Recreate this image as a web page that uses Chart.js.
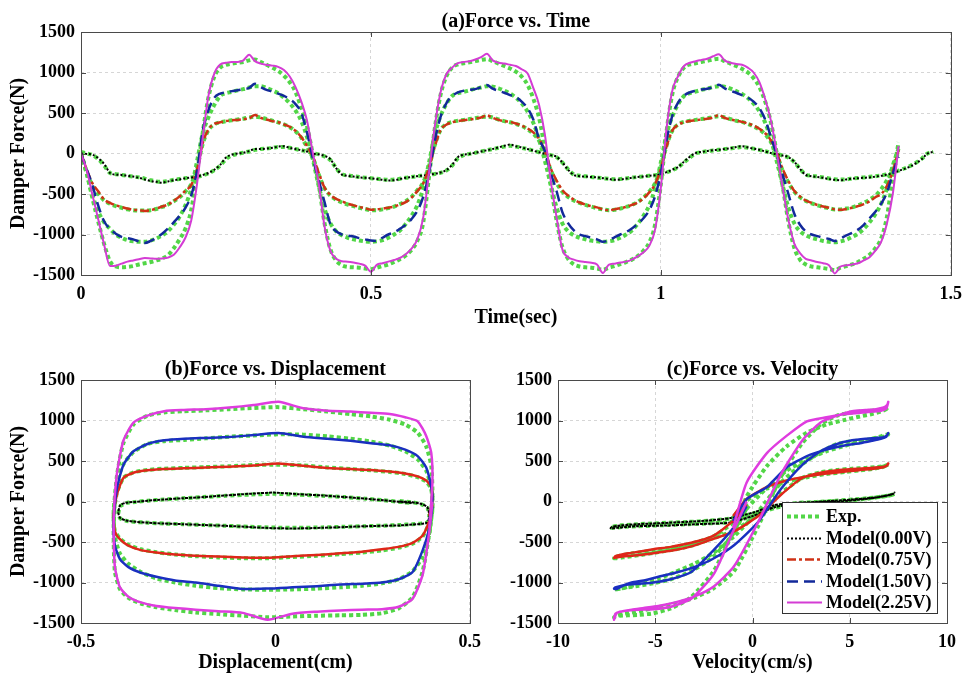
<!DOCTYPE html>
<html>
<head>
<meta charset="utf-8">
<title>MR damper: force vs time, displacement, velocity</title>
<script src="https://cdn.jsdelivr.net/npm/chart.js@4.4.1/dist/chart.umd.min.js"></script>
<style>
  body { margin: 0; background: #fff; }
  #wrap { position: relative; width: 971px; height: 675px; }
  .panel { position: absolute; }
</style>
</head>
<body>
<div id="wrap">
  <div class="panel" style="left:0;top:0"><canvas id="chartA" width="971" height="330"></canvas></div>
  <div class="panel" style="left:0;top:330px"><canvas id="chartB" width="490" height="345"></canvas></div>
  <div class="panel" style="left:490px;top:330px"><canvas id="chartC" width="481" height="345"></canvas></div>
</div>
<script>
const FONT = "'Liberation Serif', 'Times New Roman', serif";

// sample times (sec)
const timeSec = [
  0.00, 0.01, 0.02, 0.03, 0.04, 0.05, 0.06, 0.07, 0.08, 0.09,
  0.10, 0.11, 0.12, 0.13, 0.14, 0.15, 0.16, 0.17, 0.18, 0.19,
  0.20, 0.21, 0.22, 0.23, 0.24, 0.25, 0.26, 0.27, 0.28, 0.29,
  0.30, 0.31, 0.32, 0.33, 0.34, 0.35, 0.36, 0.37, 0.38, 0.39,
  0.40, 0.41, 0.42, 0.43, 0.44, 0.45, 0.46, 0.47, 0.48, 0.49,
  0.50, 0.51, 0.52, 0.53, 0.54, 0.55, 0.56, 0.57, 0.58, 0.59,
  0.60, 0.61, 0.62, 0.63, 0.64, 0.65, 0.66, 0.67, 0.68, 0.69,
  0.70, 0.71, 0.72, 0.73, 0.74, 0.75, 0.76, 0.77, 0.78, 0.79,
  0.80, 0.81, 0.82, 0.83, 0.84, 0.85, 0.86, 0.87, 0.88, 0.89,
  0.90, 0.91, 0.92, 0.93, 0.94, 0.95, 0.96, 0.97, 0.98, 0.99,
  1.00, 1.01, 1.02, 1.03, 1.04, 1.05, 1.06, 1.07, 1.08, 1.09,
  1.10, 1.11, 1.12, 1.13, 1.14, 1.15, 1.16, 1.17, 1.18, 1.19,
  1.20, 1.21, 1.22, 1.23, 1.24, 1.25, 1.26, 1.27, 1.28, 1.29,
  1.30, 1.31, 1.32, 1.33, 1.34, 1.35, 1.36, 1.37, 1.38, 1.39,
  1.40, 1.41, 1.42, 1.43, 1.44, 1.45, 1.46, 1.47
];

// damper force (N), 0.00 V
const expForce000 = [
  20, 0, -20, -70, -150, -240, -255, -265, -275, -285,
  -295, -310, -330, -345, -350, -340, -325, -315, -305, -295,
  -285, -270, -245, -205, -150, -70, -25, -5, 10, 25,
  45, 55, 60, 70, 80, 80, 70, 55, 40, 25,
  5, -10, -35, -80, -180, -255, -270, -280, -290, -298,
  -305, -312, -320, -325, -322, -312, -300, -290, -280, -272,
  -262, -252, -238, -210, -150, -60, -20, -5, 10, 25,
  40, 55, 70, 85, 95, 85, 70, 55, 35, 15,
  -5, -20, -45, -110, -195, -260, -275, -282, -290, -298,
  -305, -312, -318, -315, -308, -298, -290, -283, -275, -268,
  -258, -235, -205, -170, -110, -50, 0, 15, 28, 38,
  45, 55, 62, 72, 80, 72, 60, 45, 28, 8,
  -8, -25, -50, -105, -190, -260, -275, -285, -295, -308,
  -318, -322, -318, -310, -302, -295, -288, -280, -270, -258,
  -240, -212, -185, -155, -115, -65, 0, 20
];
const modelForce000 = [
  0, -5, -15, -60, -130, -240, -260, -265, -275, -285,
  -300, -320, -340, -350, -360, -345, -330, -320, -305, -295,
  -285, -265, -240, -200, -140, -50, -15, 0, 10, 30,
  55, 55, 60, 70, 85, 90, 70, 55, 40, 25,
  0, -10, -30, -70, -180, -260, -275, -285, -295, -300,
  -305, -315, -325, -332, -330, -315, -300, -290, -280, -272,
  -262, -250, -235, -205, -140, -45, -15, -5, 10, 25,
  40, 55, 75, 95, 110, 90, 75, 55, 35, 15,
  -5, -20, -40, -110, -200, -265, -280, -285, -290, -295,
  -305, -315, -325, -320, -310, -300, -290, -285, -275, -268,
  -255, -230, -200, -165, -100, -40, 5, 20, 30, 40,
  45, 55, 65, 80, 90, 75, 60, 45, 25, 5,
  -10, -25, -45, -100, -190, -265, -280, -290, -300, -315,
  -325, -330, -320, -310, -305, -300, -295, -285, -275, -260,
  -245, -215, -190, -160, -120, -70, 0, 20
];

// damper force (N), 0.75 V
const expForce075 = [
  0, -230, -400, -500, -580, -620, -650, -670, -690, -700,
  -705, -705, -700, -685, -660, -630, -590, -540, -470, -380,
  -180, 120, 290, 360, 385, 400, 410, 420, 430, 445,
  455, 445, 425, 405, 385, 360, 325, 275, 195, 80,
  -60, -260, -430, -520, -570, -605, -630, -650, -670, -685,
  -700, -700, -690, -675, -655, -625, -590, -535, -455, -360,
  -160, 100, 290, 360, 390, 405, 415, 425, 435, 450,
  455, 445, 420, 400, 385, 365, 340, 300, 245, 160,
  10, -200, -360, -470, -535, -580, -610, -635, -655, -675,
  -690, -700, -695, -680, -660, -635, -600, -545, -470, -370,
  -170, 100, 285, 360, 390, 405, 415, 425, 435, 450,
  460, 445, 425, 405, 390, 365, 335, 295, 235, 140,
  -10, -210, -360, -470, -540, -585, -615, -640, -660, -675,
  -690, -690, -680, -665, -640, -610, -570, -520, -440, -330,
  -170, 30
];
const modelForce075 = [
  0, -200, -370, -470, -570, -610, -640, -660, -680, -695,
  -700, -710, -700, -680, -655, -630, -585, -530, -460, -390,
  -200, 130, 300, 365, 385, 400, 410, 415, 425, 435,
  475, 440, 420, 400, 385, 360, 330, 280, 200, 90,
  -40, -240, -420, -510, -560, -590, -620, -640, -660, -675,
  -695, -690, -680, -670, -655, -630, -600, -545, -465, -370,
  -180, 80, 290, 355, 385, 400, 410, 420, 430, 445,
  470, 440, 415, 400, 390, 370, 345, 310, 260, 180,
  30, -180, -330, -450, -520, -570, -605, -630, -650, -665,
  -690, -700, -690, -675, -660, -635, -605, -555, -480, -380,
  -190, 90, 285, 355, 385, 400, 410, 420, 430, 445,
  475, 440, 420, 405, 390, 370, 345, 305, 250, 160,
  10, -190, -340, -460, -530, -580, -610, -635, -655, -670,
  -690, -695, -685, -670, -650, -625, -590, -540, -500, -400,
  -220, 40
];

// damper force (N), 1.50 V
const expForce150 = [
  0, -250, -520, -720, -850, -930, -1000, -1040, -1070, -1085,
  -1090, -1090, -1075, -1050, -1010, -960, -880, -780, -640, -440,
  -100, 250, 450, 600, 710, 745, 760, 780, 795, 815,
  830, 830, 810, 780, 745, 690, 620, 530, 400, 200,
  -80, -400, -680, -860, -960, -1010, -1040, -1060, -1075, -1085,
  -1090, -1085, -1070, -1040, -1000, -950, -870, -770, -640, -430,
  -120, 230, 460, 610, 710, 745, 760, 780, 800, 815,
  830, 825, 805, 775, 740, 690, 620, 520, 380, 170,
  -90, -380, -660, -860, -960, -1010, -1040, -1060, -1075, -1085,
  -1090, -1085, -1070, -1040, -1000, -950, -870, -770, -640, -430,
  -110, 240, 460, 610, 710, 745, 765, 785, 800, 820,
  830, 825, 800, 770, 735, 685, 615, 520, 380, 170,
  -100, -390, -670, -860, -960, -1010, -1040, -1060, -1080, -1090,
  -1095, -1085, -1065, -1030, -990, -930, -850, -750, -620, -430,
  -150, 60
];
const modelForce150 = [
  0, -200, -400, -650, -840, -930, -990, -1030, -1045, -1060,
  -1085, -1105, -1080, -1040, -990, -925, -850, -770, -670, -520,
  -220, 280, 540, 690, 740, 755, 770, 780, 795, 810,
  860, 820, 785, 765, 740, 710, 670, 610, 500, 250,
  -60, -330, -600, -870, -960, -1000, -1015, -1025, -1045, -1060,
  -1075, -1080, -1040, -1000, -975, -930, -880, -810, -710, -540,
  -250, 150, 450, 620, 710, 755, 775, 785, 795, 820,
  845, 800, 775, 750, 720, 695, 640, 560, 420, 180,
  30, -240, -460, -720, -860, -950, -1000, -1020, -1040, -1060,
  -1090, -1070, -1035, -1000, -970, -925, -870, -800, -700, -530,
  -240, 170, 470, 630, 715, 755, 775, 790, 800, 820,
  850, 805, 775, 750, 720, 690, 640, 560, 420, 200,
  -20, -260, -500, -740, -880, -960, -1000, -1020, -1040, -1055,
  -1080, -1050, -1010, -980, -940, -880, -800, -720, -620, -480,
  -250, -40
];

// damper force (N), 2.25 V
const expForce225 = [
  0, -250, -560, -850, -1120, -1330, -1395, -1405, -1400, -1390,
  -1370, -1355, -1340, -1320, -1295, -1255, -1170, -1060, -930, -700,
  -250, 260, 700, 950, 1060, 1095, 1110, 1120, 1130, 1150,
  1160, 1130, 1095, 1060, 1020, 960, 880, 760, 560, 330,
  -20, -380, -860, -1180, -1320, -1380, -1400, -1405, -1410, -1420,
  -1430, -1410, -1390, -1370, -1340, -1305, -1260, -1190, -1080, -860,
  -300, 300, 720, 950, 1060, 1100, 1115, 1125, 1140, 1155,
  1165, 1140, 1110, 1080, 1050, 1010, 950, 850, 680, 440,
  60, -380, -820, -1150, -1300, -1370, -1395, -1405, -1410, -1420,
  -1435, -1410, -1390, -1365, -1340, -1310, -1265, -1200, -1100, -880,
  -380, 280, 740, 950, 1060, 1100, 1115, 1130, 1145, 1160,
  1170, 1140, 1110, 1080, 1045, 1000, 930, 820, 640, 380,
  0, -400, -840, -1160, -1310, -1370, -1395, -1405, -1415, -1425,
  -1440, -1410, -1390, -1370, -1340, -1300, -1250, -1170, -1050, -780,
  -300, 140
];
const modelForce225 = [
  0, -210, -520, -820, -1130, -1390, -1385, -1360, -1335, -1320,
  -1305, -1290, -1295, -1300, -1295, -1285, -1250, -1160, -1040, -830,
  -380, 200, 720, 990, 1100, 1120, 1130, 1130, 1150, 1220,
  1140, 1110, 1095, 1085, 1070, 1030, 950, 820, 640, 400,
  0, -370, -900, -1200, -1300, -1330, -1335, -1345, -1360, -1385,
  -1460, -1375, -1355, -1335, -1315, -1290, -1245, -1175, -1060, -800,
  -250, 330, 750, 975, 1060, 1115, 1130, 1140, 1160, 1190,
  1230, 1150, 1120, 1110, 1095, 1080, 1040, 990, 810, 600,
  235, -330, -780, -1180, -1280, -1310, -1330, -1340, -1350, -1370,
  -1475, -1375, -1360, -1345, -1335, -1310, -1270, -1220, -1140, -940,
  -420, 320, 780, 960, 1080, 1120, 1140, 1155, 1170, 1200,
  1225, 1150, 1120, 1105, 1095, 1060, 1000, 880, 670, 400,
  10, -420, -820, -1110, -1230, -1300, -1320, -1340, -1355, -1380,
  -1480, -1395, -1380, -1370, -1355, -1320, -1280, -1200, -1090, -860,
  -500, 90
];

// one cycle, samples 40..81 (t = 0.40 ... 0.81 s), for panels (b) and (c)
const loopStart = 40;
// displacement (cm) and velocity (cm/s), tests at 0.75, 1.50 and 2.25 V
const loopDisp = [
  0.404, 0.396, 0.379, 0.353, 0.317, 0.274, 0.223, 0.167, 0.107, 0.044,
  -0.020, -0.084, -0.146, -0.205, -0.258, -0.306, -0.346, -0.378, -0.400, -0.413,
  -0.416, -0.408, -0.391, -0.365, -0.329, -0.286, -0.235, -0.179, -0.119, -0.056,
  0.008, 0.072, 0.134, 0.193, 0.246, 0.294, 0.334, 0.366, 0.388, 0.401,
  0.404, 0.396
];
const loopVel = [
  -0.30, -1.00, -2.00, -3.15, -4.20, -5.10, -5.85, -6.40, -6.82, -7.05,
  -7.12, -6.98, -6.67, -6.21, -5.59, -4.84, -3.97, -3.00, -2.05, -0.95,
  0.30, 1.45, 2.55, 3.50, 4.35, 5.12, 5.81, 6.35, 6.74, 6.92,
  6.98, 6.88, 6.60, 6.14, 5.53, 4.79, 3.80, 2.80, 1.75, 0.75,
  -0.30, -1.00
];
// displacement (cm) and velocity (cm/s), test at 0.00 V
const loopDisp000 = [
  0.320, 0.352, 0.376, 0.391, 0.396, 0.391, 0.376, 0.352, 0.320, 0.279,
  0.231, 0.178, 0.120, 0.059, -0.004, -0.067, -0.128, -0.186, -0.239, -0.287,
  -0.328, -0.360, -0.384, -0.399, -0.404, -0.399, -0.384, -0.360, -0.328, -0.287,
  -0.239, -0.186, -0.128, -0.067, -0.004, 0.059, 0.120, 0.178, 0.231, 0.279,
  0.320, 0.352
];
const loopVel000 = [
  4.29, 3.31, 2.26, 1.14, 0.00, -1.14, -2.26, -3.31, -4.29, -5.16,
  -5.91, -6.50, -6.94, -7.21, -7.30, -7.21, -6.94, -6.50, -5.91, -5.16,
  -4.29, -3.31, -2.26, -1.14, 0.00, 1.14, 2.26, 3.31, 4.29, 5.16,
  5.91, 6.50, 6.94, 7.21, 7.30, 7.21, 6.94, 6.50, 5.91, 5.16,
  4.29, 3.31
];

// tick labels
const forceTicks = [-1500, -1000, -500, 0, 500, 1000, 1500];
const timeTicks = [0, 0.5, 1, 1.5];
const dispTicks = [-0.5, 0, 0.5];
const velTicks = [-10, -5, 0, 5, 10];

const voltLabels = ['0.00V', '0.75V', '1.50V', '2.25V'];

const expForces = [expForce000, expForce075, expForce150, expForce225];
const modelForces = [modelForce000, modelForce075, modelForce150, modelForce225];
const loopDisps = [loopDisp000, loopDisp, loopDisp, loopDisp];
const loopVels = [loopVel000, loopVel, loopVel, loopVel];

const EXP_GREEN = '#52d647';
const expStyle = { color: EXP_GREEN, dash: [4, 3], width: 4 };
const modelStyles = [
  { color: '#000000', dash: [2, 2], width: 2 },
  { color: '#cf3216', dash: [9, 3, 3, 3], width: 2.5 },
  { color: '#12299a', dash: [11, 6], width: 2.5 },
  { color: '#d43cd4', dash: [], width: 2 }
];
const loopStyles = [
  { color: '#000000', dash: [3, 1], width: 2 },
  { color: '#e0261a', dash: [], width: 2.5 },
  { color: '#1a2fc0', dash: [], width: 2.5 },
  { color: '#df3cdf', dash: [], width: 2.5 }
];

const tickFont = { family: FONT, size: 18, weight: 'bold' };

function pairs(xs, ys) {
  return ys.map((y, i) => ({ x: xs[i], y: y }));
}

function drawLegend(chart, items) {
  const { ctx, chartArea: a } = chart;
  const w = 155, h = 111;
  const left = a.right - 10 - w, top = a.bottom - 10 - h;
  ctx.save();
  ctx.fillStyle = '#fff';
  ctx.fillRect(left, top, w, h);
  ctx.strokeStyle = '#333';
  ctx.lineWidth = 1;
  ctx.strokeRect(left + 0.5, top + 0.5, w, h);
  ctx.font = 'bold 18px ' + FONT;
  ctx.textBaseline = 'middle';
  ctx.textAlign = 'left';
  items.forEach((it, i) => {
    const y = Math.round(top + 14 + i * 21.5) + 0.5;
    ctx.beginPath();
    ctx.setLineDash(it.dash);
    ctx.lineWidth = it.width;
    ctx.strokeStyle = it.color;
    ctx.moveTo(left + 5, y);
    ctx.lineTo(left + 40, y);
    ctx.stroke();
    ctx.setLineDash([]);
    ctx.fillStyle = '#000';
    ctx.fillText(it.label, left + 44, y + 1);
  });
  ctx.restore();
}

// matlab-like box, inward ticks, titles
const axesDecor = {
  id: 'axesDecor',
  afterDatasetsDraw(chart, args, opts) {
    const { ctx, chartArea: a, scales } = chart;
    ctx.save();
    ctx.strokeStyle = '#4a4a4a';
    ctx.lineWidth = 1;
    ctx.beginPath();
    scales.x.ticks.forEach(t => {
      const px = Math.round(scales.x.getPixelForValue(t.value)) + 0.5;
      ctx.moveTo(px, a.bottom); ctx.lineTo(px, a.bottom - 5);
      ctx.moveTo(px, a.top); ctx.lineTo(px, a.top + 5);
    });
    scales.y.ticks.forEach(t => {
      const py = Math.round(scales.y.getPixelForValue(t.value)) + 0.5;
      ctx.moveTo(a.left, py); ctx.lineTo(a.left + 5, py);
      ctx.moveTo(a.right, py); ctx.lineTo(a.right - 5, py);
    });
    ctx.stroke();
    ctx.strokeRect(Math.round(a.left) + 0.5, Math.round(a.top) + 0.5,
      Math.round(a.right - a.left), Math.round(a.bottom - a.top));
    ctx.restore();
  },
  afterDraw(chart, args, opts) {
    const { ctx, chartArea: a } = chart;
    const cx = (a.left + a.right) / 2;
    ctx.save();
    ctx.fillStyle = '#000';
    ctx.font = 'bold 20px ' + FONT;
    ctx.textAlign = 'center';
    ctx.textBaseline = 'alphabetic';
    ctx.fillText(opts.title, cx, a.top - 5);
    ctx.textBaseline = 'middle';
    ctx.fillText(opts.xLabel, cx, a.bottom + opts.xLabelGap);
    if (opts.yLabel) {
      ctx.translate(19, (a.top + a.bottom) / 2);
      ctx.rotate(-Math.PI / 2);
      ctx.fillText(opts.yLabel, 0, 0);
    }
    ctx.restore();
    if (opts.legend) drawLegend(chart, opts.legend);
  }
};

function makeOptions(cfg) {
  return {
    responsive: false,
    animation: false,
    events: [],
    layout: { padding: cfg.padding },
    plugins: {
      legend: { display: false },
      tooltip: { enabled: false },
      axesDecor: cfg.decor
    },
    scales: {
      x: {
        type: 'linear',
        min: cfg.xTicks[0],
        max: cfg.xTicks[cfg.xTicks.length - 1],
        afterBuildTicks: s => { s.ticks = cfg.xTicks.map(v => ({ value: v })); },
        afterFit: s => { s.height = cfg.xHeight; },
        ticks: { color: '#000', font: tickFont, padding: 9, maxRotation: 0, autoSkip: false, callback: v => String(v) },
        grid: { color: '#d6d6d6', lineWidth: 1, drawTicks: false },
        border: { display: false, dash: [3, 3] }
      },
      y: {
        type: 'linear',
        min: forceTicks[0],
        max: forceTicks[forceTicks.length - 1],
        afterBuildTicks: s => { s.ticks = forceTicks.map(v => ({ value: v })); },
        afterFit: s => { s.width = cfg.yWidth; },
        ticks: { color: '#000', font: tickFont, padding: 6, autoSkip: false, callback: v => String(v) },
        grid: { color: '#d6d6d6', lineWidth: 1, drawTicks: false },
        border: { display: false, dash: [3, 3] }
      }
    }
  };
}

function lineSet(points, style, order, extra) {
  return Object.assign({
    data: points,
    showLine: true,
    fill: false,
    borderColor: style.color,
    backgroundColor: style.color,
    borderWidth: style.width,
    borderDash: style.dash,
    borderCapStyle: 'butt',
    pointRadius: 0,
    pointHitRadius: 0,
    order: order
  }, extra);
}

// (a) force vs time
const timeSets = [];
expForces.forEach((f, i) => {
  timeSets.push(lineSet(pairs(timeSec, f), expStyle, 10 - i, { cubicInterpolationMode: 'monotone' }));
});
modelForces.forEach((f, i) => {
  timeSets.push(lineSet(pairs(timeSec, f), modelStyles[i], 4 - i, { cubicInterpolationMode: 'monotone' }));
});

new Chart(document.getElementById('chartA'), {
  type: 'scatter',
  data: { datasets: timeSets },
  options: makeOptions({
    padding: { top: 32, right: 14, left: 0, bottom: 0 },
    yWidth: 81, xHeight: 55, xTicks: timeTicks,
    decor: { title: '(a)Force vs. Time', xLabel: 'Time(sec)', xLabelGap: 43, yLabel: 'Damper Force(N)' }
  }),
  plugins: [axesDecor]
});

// (b) and (c): one cycle of each test
function loopSets(xArrays) {
  const sets = [];
  expForces.forEach((f, i) => {
    const xs = xArrays[i];
    sets.push(lineSet(pairs(xs, f.slice(loopStart, loopStart + xs.length)),
      expStyle, 10 - i, { tension: 0.2 }));
  });
  modelForces.forEach((f, i) => {
    const xs = xArrays[i];
    sets.push(lineSet(pairs(xs, f.slice(loopStart, loopStart + xs.length)),
      loopStyles[i], 4 - i, { tension: 0.2 }));
  });
  return sets;
}

new Chart(document.getElementById('chartB'), {
  type: 'scatter',
  data: { datasets: loopSets(loopDisps) },
  options: makeOptions({
    padding: { top: 50, right: 19, left: 0, bottom: 0 },
    yWidth: 81, xHeight: 52, xTicks: dispTicks,
    decor: { title: '(b)Force vs. Displacement', xLabel: 'Displacement(cm)', xLabelGap: 40, yLabel: 'Damper Force(N)' }
  }),
  plugins: [axesDecor]
});

const legendItems = [Object.assign({ label: 'Exp.' }, expStyle)].concat(
  modelStyles.map((s, i) => Object.assign({ label: 'Model(' + voltLabels[i] + ')' }, s))
);

new Chart(document.getElementById('chartC'), {
  type: 'scatter',
  data: { datasets: loopSets(loopVels) },
  options: makeOptions({
    padding: { top: 50, right: 24, left: 0, bottom: 0 },
    yWidth: 68, xHeight: 52, xTicks: velTicks,
    decor: { title: '(c)Force vs. Velocity', xLabel: 'Velocity(cm/s)', xLabelGap: 40, yLabel: null, legend: legendItems }
  }),
  plugins: [axesDecor]
});
</script>
</body>
</html>
